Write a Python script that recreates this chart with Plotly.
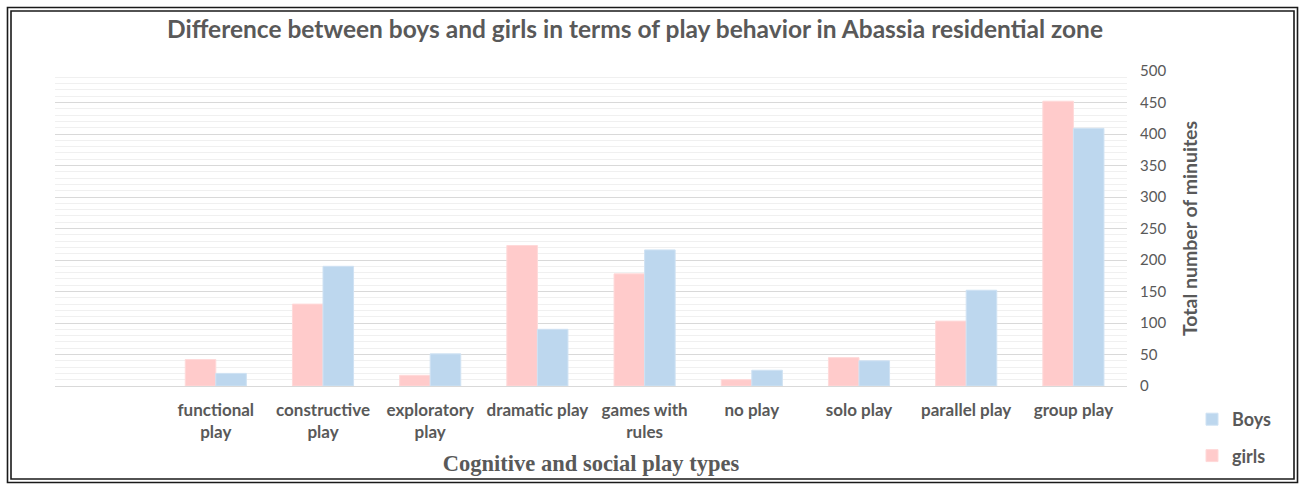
import plotly.graph_objects as go

# Play types (a leading empty slot is kept on the axis)
play_types = [
    "functional<br>play", "constructive<br>play", "exploratory<br>play",
    "dramatic play", "games with<br>rules", "no play", "solo play",
    "parallel play", "group play",
]
girls_minutes = [42, 130, 17, 223, 178, 10, 45, 103, 452]
boys_minutes = [20, 190, 51, 90, 216, 25, 40, 152, 409]
y_ticks = [0, 50, 100, 150, 200, 250, 300, 350, 400, 450, 500]

positions = list(range(1, len(play_types) + 1))

W, H = 1303, 485
L, R, T, B = 55, 176, 71, 99
PW, PH = W - L - R, H - T - B


def px_x(px):
    return (px - L) / PW


def px_y(py):
    return (H - B - py) / PH


GREY = "#595959"
FONT = "Lato"

fig = go.Figure()
fig.add_trace(go.Bar(
    x=positions, y=girls_minutes, name="girls",
    marker=dict(color="#FFCBCB", line=dict(color="#FFD9D9", width=1)),
    legendgroup="girls", legendrank=2,
))
fig.add_trace(go.Bar(
    x=positions, y=boys_minutes, name="Boys",
    marker=dict(color="#BDD7EE", line=dict(color="#CFE2F3", width=1)),
    legendgroup="boys", legendrank=1,
))

# double frame around the whole figure
frame = []
for (x0, y0, x1, y1) in [(7.5, 7.5, 1297.5, 482.5), (11, 11, 1294, 479)]:
    frame.append(dict(
        type="rect", xref="paper", yref="paper",
        x0=px_x(x0), x1=px_x(x1), y0=px_y(y1), y1=px_y(y0),
        line=dict(color="#1a1a1a", width=1.6), layer="above",
    ))

fig.update_layout(
    width=W, height=H,
    margin=dict(l=L, r=R, t=T, b=B, autoexpand=False),
    paper_bgcolor="white", plot_bgcolor="white",
    font=dict(family=FONT, color=GREY),
    showlegend=True,
    title=dict(
        text="Difference between boys and girls in terms of play behavior in Abassia residential zone",
        x=635 / W, xanchor="center", y=1 - 29 / H, yanchor="middle",
        yref="container",
        font=dict(size=24.5, color=GREY, family=FONT, weight="bold"),
    ),
    barmode="group", bargap=0.43, bargroupgap=0,
    xaxis=dict(
        range=[-0.5, 9.5], tickmode="array", tickvals=positions,
        ticktext=play_types, automargin=False,
        tickfont=dict(size=17, color=GREY, family=FONT, weight="bold"),
        showgrid=False, zeroline=False, showline=False, ticks="",
        ticklabelstandoff=12,
        title=dict(
            text="Cognitive and social play types",
            font=dict(size=22.5, color=GREY, family="Liberation Serif",
                      weight="bold"),
            standoff=14,
        ),
    ),
    yaxis=dict(
        side="right", range=[0, 500], tickvals=y_ticks, automargin=False,
        tickfont=dict(size=15, color=GREY, family=FONT),
        gridcolor="#d9d9d9", gridwidth=1,
        zeroline=True, zerolinecolor="#d9d9d9", zerolinewidth=1,
        minor=dict(dtick=10, showgrid=True, gridcolor="#f0f0f0", gridwidth=1),
        ticks="", ticklabelstandoff=12,
        title=dict(
            text="Total number of minuites",
            font=dict(size=19.5, color=GREY, family=FONT, weight="bold"),
            standoff=17,
        ),
    ),
    legend=dict(
        x=px_x(1192), xanchor="left", y=px_y(401), yanchor="top",
        traceorder="grouped", tracegroupgap=10,
        font=dict(size=18, color=GREY, family=FONT, weight="bold"),
        itemwidth=30, bgcolor="rgba(0,0,0,0)",
    ),
    shapes=frame,
)

fig.write_html("out.html")
